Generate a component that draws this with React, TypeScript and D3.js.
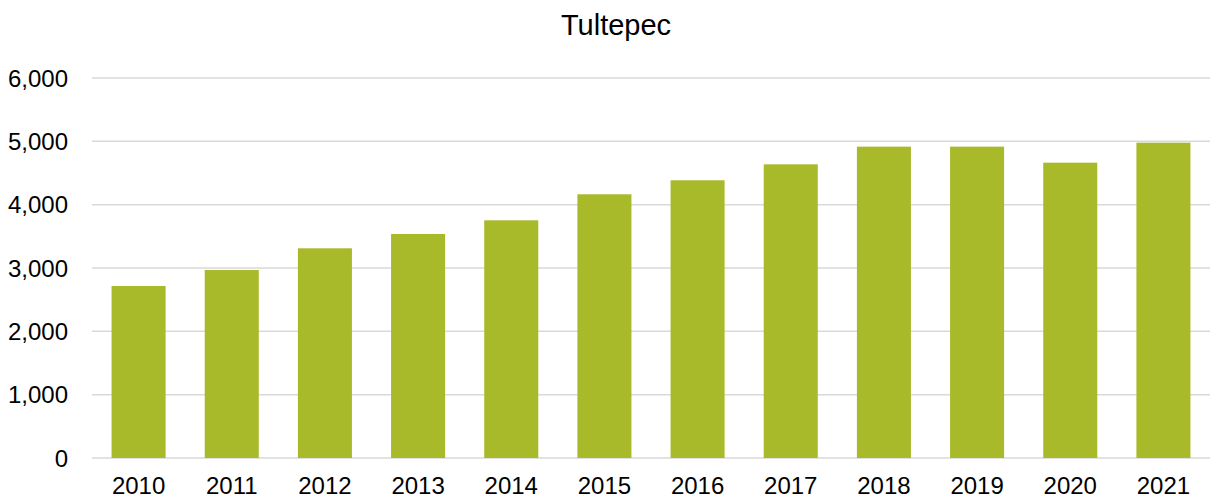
import React, { useEffect, useRef } from 'react';
import * as d3 from 'd3';

const years = ['2010', '2011', '2012', '2013', '2014', '2015', '2016', '2017', '2018', '2019', '2020', '2021'];
const values = [2716, 2968, 3311, 3537, 3753, 4164, 4385, 4637, 4916, 4916, 4663, 4979];
const yTicks = [0, 1000, 2000, 3000, 4000, 5000, 6000];

const W = 1211;
const H = 498;

const App = () => {
  const svgRef = useRef<SVGSVGElement | null>(null);

  useEffect(() => {
    const svg = d3.select(svgRef.current);
    svg.selectAll('*').remove();

    const margin = { top: 78, right: 1, bottom: 40, left: 92 };
    const font = '"Liberation Sans", Arial, sans-serif';

    const x = d3
      .scaleBand()
      .domain(years)
      .range([margin.left, W - margin.right])
      .paddingInner(0.42)
      .paddingOuter(0.21);

    const y = d3
      .scaleLinear()
      .domain([0, 6000])
      .range([H - margin.bottom, margin.top]);

    // gridlines
    svg.append('g')
      .selectAll('line')
      .data(yTicks)
      .enter()
      .append('line')
      .attr('x1', margin.left)
      .attr('x2', W - margin.right)
      .attr('y1', d => y(d))
      .attr('y2', d => y(d))
      .attr('stroke', '#d9d9d9')
      .attr('stroke-width', 1.5);

    // y labels
    svg.append('g')
      .selectAll('text')
      .data(yTicks)
      .enter()
      .append('text')
      .attr('x', 68)
      .attr('y', d => y(d))
      .attr('dy', '0.36em')
      .attr('text-anchor', 'end')
      .attr('font-family', font)
      .attr('font-size', 24)
      .attr('fill', '#000')
      .text(d => d3.format(',')(d));

    // bars
    svg.append('g')
      .selectAll('rect')
      .data(values)
      .enter()
      .append('rect')
      .attr('x', (d, i) => x(years[i]) as number)
      .attr('y', d => y(d))
      .attr('width', x.bandwidth())
      .attr('height', d => y(0) - y(d))
      .attr('fill', '#a8b92a');

    // x labels
    svg.append('g')
      .selectAll('text')
      .data(years)
      .enter()
      .append('text')
      .attr('x', d => (x(d) as number) + x.bandwidth() / 2)
      .attr('y', 494)
      .attr('text-anchor', 'middle')
      .attr('font-family', font)
      .attr('font-size', 24)
      .attr('fill', '#000')
      .text(d => d);

    // title
    svg.append('text')
      .attr('x', 616)
      .attr('y', 35)
      .attr('text-anchor', 'middle')
      .attr('font-family', font)
      .attr('font-size', 29)
      .attr('fill', '#000')
      .text('Tultepec');
  }, []);

  return (
    <svg
      ref={svgRef}
      width={W}
      height={H}
      style={{ position: 'absolute', left: 0, top: 0, background: '#fff' }}
    />
  );
};

export default App;
